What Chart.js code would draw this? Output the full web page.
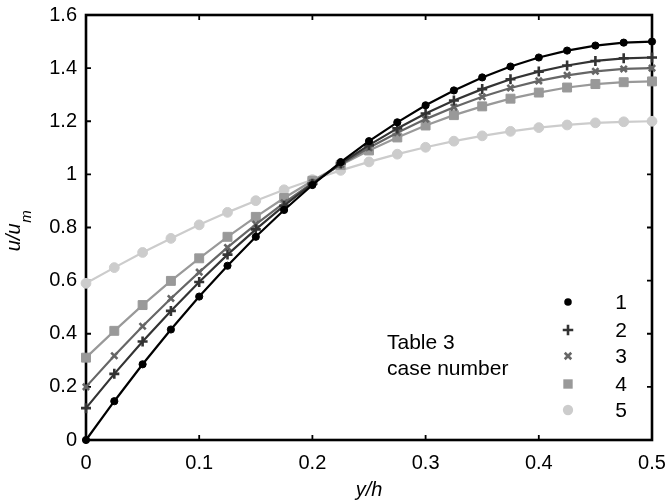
<!DOCTYPE html>
<html>
<head>
<meta charset="utf-8">
<script src="https://cdn.jsdelivr.net/npm/chart.js@4/dist/chart.umd.min.js"></script>
<style>
html,body{margin:0;padding:0;background:#fff;}
#wrap{width:667px;height:502px;position:relative;}
</style>
</head>
<body>
<div id="wrap"><canvas id="c" width="667" height="502"></canvas></div>
<script>
// ---- data ----
const yOverH = [0,0.025,0.05,0.075,0.1,0.125,0.15,0.175,0.2,0.225,0.25,0.275,0.3,0.325,0.35,0.375,0.4,0.425,0.45,0.475,0.5];
const case1 = [0,0.146,0.285,0.416,0.54,0.656,0.765,0.866,0.96,1.046,1.125,1.196,1.26,1.316,1.365,1.406,1.44,1.466,1.485,1.496,1.5];
const case2 = [0.12,0.249,0.371,0.486,0.595,0.698,0.793,0.882,0.965,1.041,1.11,1.173,1.229,1.278,1.321,1.358,1.387,1.41,1.427,1.437,1.44];
const case3 = [0.2,0.317,0.428,0.533,0.632,0.725,0.812,0.893,0.968,1.037,1.1,1.157,1.208,1.253,1.292,1.325,1.352,1.373,1.388,1.397,1.4];
const case4 = [0.31,0.411,0.508,0.599,0.684,0.765,0.84,0.911,0.976,1.035,1.09,1.139,1.184,1.223,1.256,1.285,1.308,1.327,1.34,1.347,1.35];
const case5 = [0.59,0.649,0.706,0.759,0.81,0.857,0.901,0.942,0.98,1.015,1.047,1.076,1.102,1.125,1.145,1.162,1.176,1.186,1.194,1.198,1.2];
const xTicks = [0,0.1,0.2,0.3,0.4,0.5];
const yTicks = [0,0.2,0.4,0.6,0.8,1,1.2,1.4,1.6];
const caseLabels = ['1','2','3','4','5'];
const annotationLines = ['Table 3','case number'];

const FONT = '"Liberation Sans", Arial, Helvetica, sans-serif';
const styles = [
  {color:'#000000', pointStyle:'circle',   radius:3.6, bw:1},
  {color:'#333333', pointStyle:'cross',    radius:5,   bw:2.6},
  {color:'#666666', pointStyle:'crossRot', radius:4.4, bw:2.6},
  {color:'#999999', pointStyle:'rect',     radius:6.3, bw:1},
  {color:'#cccccc', pointStyle:'circle',   radius:4.9, bw:1}
];
const series = [case1,case2,case3,case4,case5];

const datasets = series.map((s,i)=>({
  label: caseLabels[i],
  data: s.map((v,j)=>({x:yOverH[j], y:v})),
  borderColor: styles[i].color,
  backgroundColor: styles[i].color,
  pointBackgroundColor: styles[i].color,
  pointBorderColor: styles[i].color,
  pointStyle: styles[i].pointStyle,
  pointRadius: styles[i].radius,
  pointBorderWidth: styles[i].bw,
  borderWidth: 2.2,
  tension: 0,
  clip: false
}));

function drawMarker(ctx, st, x, y, scale){
  const r = st.radius*scale;
  ctx.save();
  ctx.fillStyle = st.color; ctx.strokeStyle = st.color; ctx.lineWidth = st.bw;
  ctx.beginPath();
  if (st.pointStyle==='circle'){ ctx.arc(x,y,r,0,Math.PI*2); ctx.fill(); }
  else if (st.pointStyle==='rect'){ const s=r*Math.SQRT1_2; ctx.fillRect(x-s,y-s,2*s,2*s); }
  else if (st.pointStyle==='cross'){ ctx.moveTo(x-r,y); ctx.lineTo(x+r,y); ctx.moveTo(x,y-r); ctx.lineTo(x,y+r); ctx.stroke(); }
  else if (st.pointStyle==='crossRot'){ const d=r*Math.SQRT1_2; ctx.moveTo(x-d,y-d); ctx.lineTo(x+d,y+d); ctx.moveTo(x+d,y-d); ctx.lineTo(x-d,y+d); ctx.stroke(); }
  ctx.restore();
}

const framePlugin = {
  id:'frame',
  beforeDatasetsDraw(chart){
    const {ctx, chartArea:a, scales} = chart;
    ctx.save();
    ctx.strokeStyle='#000'; ctx.lineWidth=1.8;
    const L=5;
    ctx.beginPath();
    xTicks.forEach(v=>{ const px=scales.x.getPixelForValue(v);
      ctx.moveTo(px,a.bottom); ctx.lineTo(px,a.bottom-L);
      ctx.moveTo(px,a.top); ctx.lineTo(px,a.top+L); });
    yTicks.forEach(v=>{ const py=scales.y.getPixelForValue(v);
      ctx.moveTo(a.left,py); ctx.lineTo(a.left+L,py);
      ctx.moveTo(a.right,py); ctx.lineTo(a.right-L,py); });
    ctx.stroke();
    ctx.lineWidth=2.6;
    ctx.strokeRect(a.left,a.top,a.right-a.left,a.bottom-a.top);
    ctx.restore();
  },
  afterDraw(chart){
    const {ctx, chartArea:a} = chart;
    ctx.save();
    ctx.fillStyle='#000';
    // x title
    ctx.font = 'italic 20px '+FONT;
    ctx.textAlign='center'; ctx.textBaseline='middle';
    ctx.fillText('y/h', (a.left+a.right)/2, 490);
    // y title with subscript
    ctx.save();
    ctx.translate(20, 231);
    ctx.rotate(-Math.PI/2);
    ctx.textBaseline='alphabetic'; ctx.textAlign='left';
    ctx.font = 'italic 20px '+FONT;
    const w1 = ctx.measureText('u/u').width;
    ctx.font = 'italic 15px '+FONT;
    const w2 = ctx.measureText('m').width;
    const start = -(w1+w2)/2;
    ctx.font = 'italic 20px '+FONT;
    ctx.fillText('u/u', start, 0);
    ctx.font = 'italic 15px '+FONT;
    ctx.fillText('m', start+w1+0.5, 11);
    ctx.restore();
    // annotation
    ctx.font = '21px '+FONT;
    ctx.textAlign='left'; ctx.textBaseline='middle';
    annotationLines.forEach((t,i)=>ctx.fillText(t, 387, 343+i*26));
    // legend
    const rows=[302,330,356,384,410];
    caseLabels.forEach((lab,i)=>{
      drawMarker(ctx, styles[i], 568, rows[i], 1.05);
      ctx.fillStyle='#000';
      ctx.font='21px '+FONT; ctx.textAlign='center'; ctx.textBaseline='middle';
      ctx.fillText(lab, 621, rows[i]+1);
    });
    ctx.restore();
  }
};

new Chart(document.getElementById('c'), {
  type:'line',
  data:{datasets},
  plugins:[framePlugin],
  options:{
    responsive:false,
    animation:false,
    devicePixelRatio:1,
    layout:{padding:{top:15,right:15,left:0,bottom:0}},
    plugins:{legend:{display:false}, tooltip:{enabled:false}},
    scales:{
      x:{
        type:'linear', min:0, max:0.5,
        afterBuildTicks(s){ s.ticks = xTicks.map(v=>({value:v})); },
        afterFit(s){ s.height=62; s.paddingLeft=0; s.paddingRight=0; },
        grid:{display:false, drawTicks:false},
        border:{display:false},
        ticks:{padding:11, color:'#000', font:{family:FONT, size:20}, maxRotation:0, autoSkip:false,
          callback:v=>String(v)}
      },
      y:{
        type:'linear', min:0, max:1.6,
        afterBuildTicks(s){ s.ticks = yTicks.map(v=>({value:v})); },
        afterFit(s){ s.width=86; s.paddingTop=0; s.paddingBottom=0; },
        grid:{display:false, drawTicks:false},
        border:{display:false},
        ticks:{padding:9, color:'#000', font:{family:FONT, size:20}, autoSkip:false,
          callback:v=>String(v)}
      }
    }
  }
});
</script>
</body>
</html>
